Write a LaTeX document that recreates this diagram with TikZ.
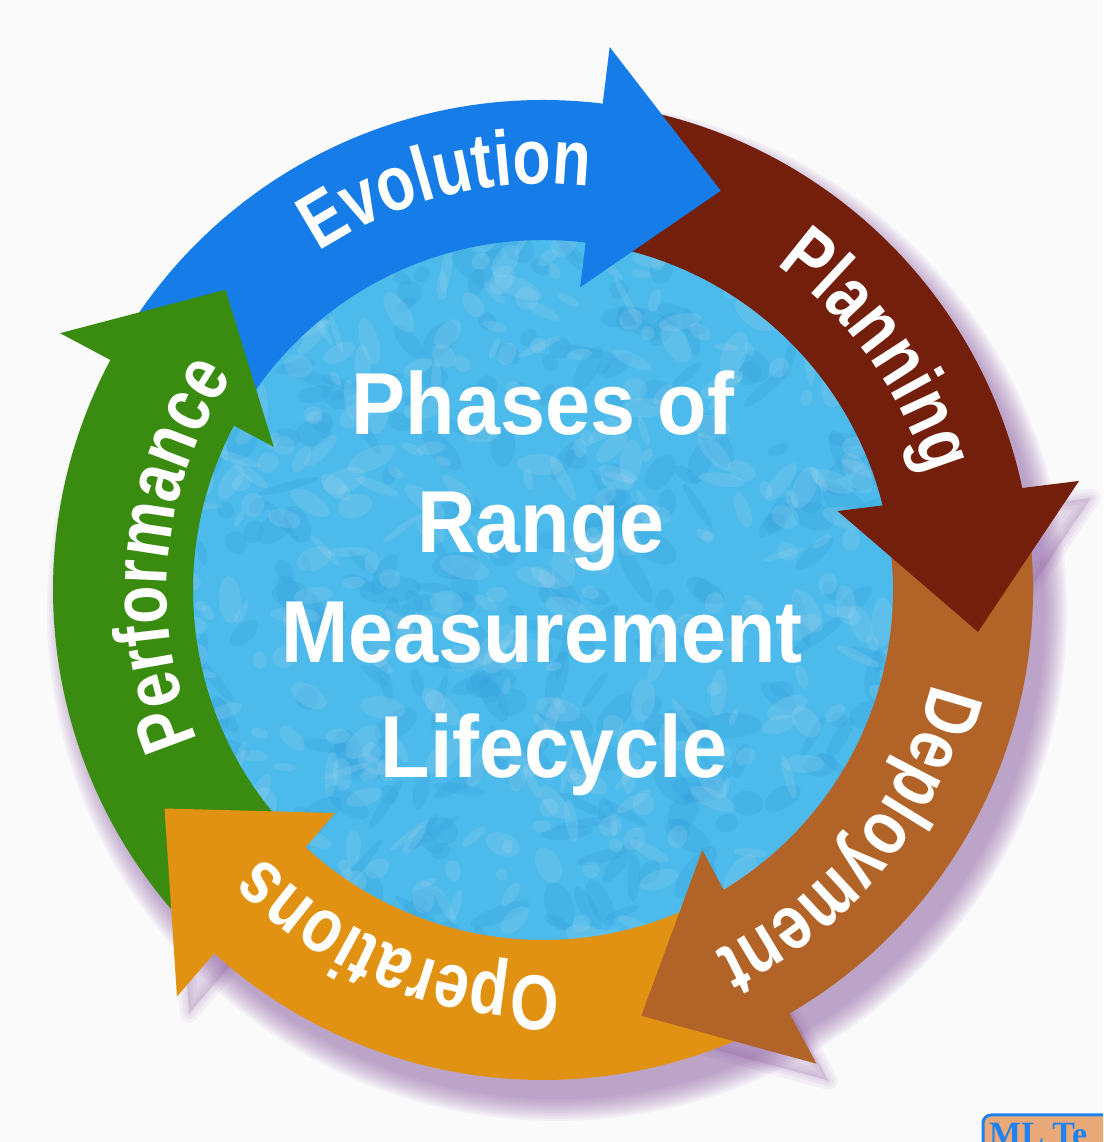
\documentclass[tikz,border=0pt]{standalone}
\usepackage{fontspec}
\setmainfont{Liberation Serif}
\newfontfamily\ringf[FakeStretch=0.8]{Liberation Sans}
\newfontfamily\centf[FakeStretch=0.92]{Liberation Sans}
\usetikzlibrary{decorations.text}
\definecolor{evoc}{RGB}{22,124,232}
\definecolor{plac}{RGB}{116,30,12}
\definecolor{depc}{RGB}{178,100,40}
\definecolor{opec}{RGB}{226,146,18}
\definecolor{perc}{RGB}{58,140,16}
\definecolor{skyc}{RGB}{76,186,234}
\definecolor{skydark}{RGB}{40,148,215}
\definecolor{skylight}{RGB}{170,215,238}
\definecolor{shadc}{RGB}{140,90,160}
\definecolor{bgc}{RGB}{250,250,251}
\definecolor{mlborder}{RGB}{30,130,240}
\definecolor{mlfill}{RGB}{232,168,120}
\newcommand\ringfmt{\ringf\bfseries\fontsize{78}{78}\selectfont\color{white}}
% body of a phase arrow: colour, tail angle, end angle (hidden under the head)
\newcommand\phasebody[3]{\fill[#1] (#2:490) arc[start angle=#2, end angle=#3, radius=490] -- (#3:350) arc[start angle=#3, end angle=#2, radius=350] -- cycle;}
% head of a phase arrow: colour, outer base angle, tip angle, inner base angle
\newcommand\phasehead[4]{\fill[#1] (#2:547) -- (#3:437) -- (#4:305) -- cycle;}
\newcommand\headshadow[3]{%
  \fill[shadc, opacity=0.22, shift={(12,-17)}] (#1:547) -- (#2:437) -- (#3:305) -- cycle;
  \foreach \w in {18,11,5}{\draw[shadc, opacity=0.07, line width=\w, line join=round, shift={(12,-17)}] (#1:547) -- (#2:437) -- (#3:305) -- cycle;}}
% label along a clockwise arc: text, centre angle, radius, half span
\newcommand\phaselabel[4]{\path[decorate, decoration={text along path, text align=center, text={|\ringfmt|#1}}] ({#2+#4}:#3) arc[start angle={#2+#4}, end angle={#2-#4}, radius=#3];}
\begin{document}
\begin{tikzpicture}[x=1pt,y=1pt,
  ctext/.style={anchor=base, inner sep=0, text=white, font=\centf\bfseries\fontsize{88}{88}\selectfont}]
\useasboundingbox (0,0) rectangle (1103,1142);
\fill[bgc] (0,0) rectangle (1103,1142);
\clip (0,0) rectangle (1103,1142);
\begin{scope}[shift={(543,552)}]
  % soft shadow of the ring (lower right only)
  \foreach \k in {0,...,11}{\fill[shadc, opacity=0.06] (14,-21) circle ({510-2*\k});}
  \headshadow{11.5}{-5.5}{15}
  \headshadow{-60}{-77}{-58.5}
  \headshadow{-132}{-150}{-133}
  % textured sky disc
  \begin{scope}
    \clip (0,0) circle (358);
    \fill[skyc] (0,0) circle (358);
    \pgfmathsetseed{12}
    \foreach \i in {1,...,320}{
      \pgfmathsetmacro{\px}{rand*355}
      \pgfmathsetmacro{\py}{rand*355}
      \pgfmathsetmacro{\rx}{8+abs(rand)*24}
      \pgfmathsetmacro{\ry}{4+abs(rand)*10}
      \pgfmathsetmacro{\rot}{rand*180}
      \fill[skydark, opacity=0.16, shift={(\px,\py)}, rotate=\rot] (0,0) ellipse[x radius=\rx, y radius=\ry];
    }
    \foreach \i in {1,...,420}{
      \pgfmathsetmacro{\px}{rand*355}
      \pgfmathsetmacro{\py}{rand*355}
      \pgfmathsetmacro{\rx}{6+abs(rand)*20}
      \pgfmathsetmacro{\ry}{3+abs(rand)*9}
      \pgfmathsetmacro{\rot}{rand*180}
      \fill[skylight, opacity=0.2, shift={(\px,\py)}, rotate=\rot] (0,0) ellipse[x radius=\rx, y radius=\ry];
    }
  \end{scope}
  % arrow bodies (each tail starts under the previous head)
  \phasebody{evoc}{151.5}{82.5}
  \phasebody{plac}{82.5}{11}
  \phasebody{depc}{11}{-60.5}
  \phasebody{opec}{-60.5}{-133.5}
  \phasebody{perc}{226.5}{151.5}
  % arrow heads
  \phasehead{evoc}{83}{66}{83}
  \phasehead{plac}{11.5}{-5.5}{15}
  \phasehead{depc}{-60}{-77}{-58.5}
  \phasehead{opec}{-132}{-150}{-133}
  \phasehead{perc}{152}{136.6}{152}
  % labels
  \phaselabel{Evolution}{103.5}{406}{35}
  \phaselabel{Planning}{35.5}{400}{30}
  \phaselabel{Deployment}{-39}{400}{38}
  \phaselabel{Operations}{-112}{386}{36}
  \phaselabel{Performance}{174.5}{376}{40}
\end{scope}
\node[ctext] (l1) at (543,707) {Phases of};
\node[ctext] (l2) at (541,589) {Range};
\node[ctext] (l3) at (542,479) {Measurement};
\node[ctext] (l4) at (554,364) {Lifecycle};
\draw[mlborder, line width=3, fill=mlfill, rounded corners=8] (983,27) rectangle (1150,-30);
\node[anchor=base west, inner sep=0, text=mlborder, font=\bfseries\fontsize{34}{34}\selectfont] (mlt) at (989,-3) {ML Te};
\end{tikzpicture}
\end{document}
